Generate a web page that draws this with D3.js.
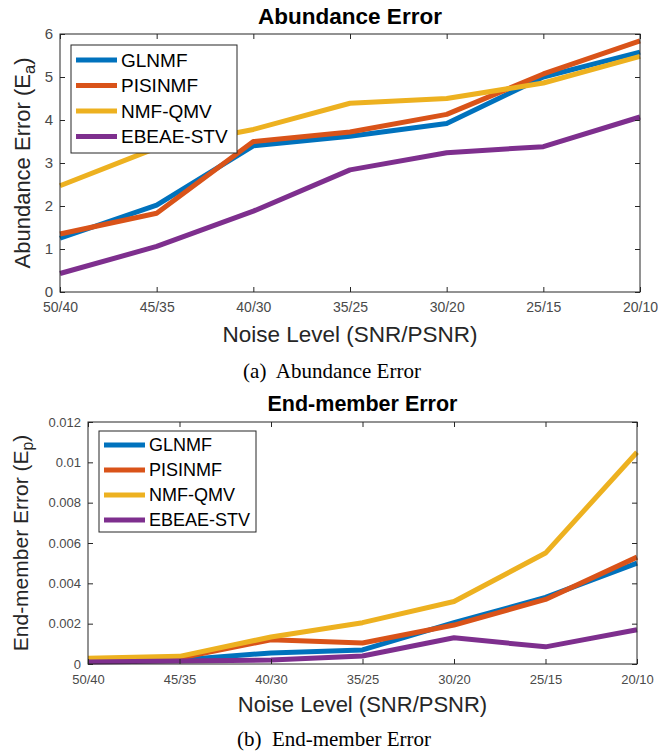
<!DOCTYPE html>
<html>
<head>
<meta charset="utf-8">
<script src="https://cdn.jsdelivr.net/npm/d3@7"></script>
<style>
  body { margin: 0; background: #fff; }
  svg { display: block; }
</style>
</head>
<body>
<div id="chart"></div>
<script>
// noise levels on the x axis, same for both panels
const noiseLevels = ["50/40", "45/35", "40/30", "35/25", "30/20", "25/15", "20/10"];
const methods = ["GLNMF", "PISINMF", "NMF-QMV", "EBEAE-STV"];
const methodColors = ["#0072BD", "#D95319", "#EDB120", "#7E2F8E"];

// (a) abundance error
const abundanceGLNMF = [1.25, 2.02, 3.4, 3.62, 3.92, 5.0, 5.58];
const abundancePISINMF = [1.35, 1.83, 3.5, 3.72, 4.13, 5.07, 5.84];
const abundanceNMFQMV = [2.47, 3.35, 3.78, 4.39, 4.5, 4.86, 5.48];
const abundanceEBEAE = [0.43, 1.06, 1.88, 2.84, 3.24, 3.38, 4.07];
const abundanceTicks = [0, 1, 2, 3, 4, 5, 6];

// (b) end-member error
const endmemberGLNMF = [0.0002, 0.0002, 0.00055, 0.0007, 0.00205, 0.0033, 0.005];
const endmemberPISINMF = [0.0002, 0.0003, 0.0012, 0.00104, 0.00193, 0.0032, 0.0053];
const endmemberNMFQMV = [0.00028, 0.00038, 0.00134, 0.00205, 0.0031, 0.0055, 0.0105];
const endmemberEBEAE = [0.0001, 0.00015, 0.0002, 0.0004, 0.0013, 0.00085, 0.0017];
const endmemberTicks = [0, 0.002, 0.004, 0.006, 0.008, 0.01, 0.012];

const width = 658, height = 752;
const axisColor = "#262626";
const labelColor = "#4a4a4a";
const font = "'Liberation Sans', Arial, sans-serif";

const svg = d3.select("#chart")
    .append("svg")
    .attr("width", width)
    .attr("height", height)
    .style("font-family", font);

function drawPanel(p) {
    const g = svg.append("g");

    const x = d3.scalePoint()
        .domain(noiseLevels)
        .range([p.left, p.right]);
    const y = d3.scaleLinear()
        .domain([p.ticks[0], p.ticks[p.ticks.length - 1]])
        .range([p.bottom, p.top]);

    // lines
    const line = d3.line()
        .x((d, i) => x(noiseLevels[i]))
        .y(d => y(d));
    p.series.forEach((s, i) => {
        g.append("path")
            .datum(s)
            .attr("d", line)
            .attr("fill", "none")
            .attr("stroke", methodColors[i])
            .attr("stroke-width", p.lineWidth)
            .attr("stroke-linejoin", "round");
    });

    // axes, MATLAB style: box with inward ticks on all four sides
    const tickLen = 5;
    g.append("g")
        .attr("transform", `translate(0,${p.bottom})`)
        .call(d3.axisBottom(x).tickSizeInner(-tickLen).tickSizeOuter(0).tickPadding(p.xPad))
        .call(a => a.select(".domain").remove())
        .call(a => a.selectAll("line").attr("stroke", axisColor))
        .call(a => a.selectAll("text")
            .attr("fill", labelColor)
            .style("font-size", p.tickFont + "px")
            .style("font-family", font));
    g.append("g")
        .attr("transform", `translate(0,${p.top})`)
        .call(d3.axisTop(x).tickSizeInner(-tickLen).tickSizeOuter(0).tickFormat(""))
        .call(a => a.select(".domain").remove())
        .call(a => a.selectAll("line").attr("stroke", axisColor));
    g.append("g")
        .attr("transform", `translate(${p.left},0)`)
        .call(d3.axisLeft(y).tickValues(p.ticks).tickFormat(d3.format("~g"))
            .tickSizeInner(-tickLen).tickSizeOuter(0).tickPadding(7))
        .call(a => a.select(".domain").remove())
        .call(a => a.selectAll("line").attr("stroke", axisColor))
        .call(a => a.selectAll("text")
            .attr("fill", labelColor)
            .style("font-size", p.yTickFont + "px")
            .style("font-family", font));
    g.append("g")
        .attr("transform", `translate(${p.right},0)`)
        .call(d3.axisRight(y).tickValues(p.ticks).tickFormat("")
            .tickSizeInner(-tickLen).tickSizeOuter(0))
        .call(a => a.select(".domain").remove())
        .call(a => a.selectAll("line").attr("stroke", axisColor));
    g.append("rect")
        .attr("x", p.left)
        .attr("y", p.top)
        .attr("width", p.right - p.left)
        .attr("height", p.bottom - p.top)
        .attr("fill", "none")
        .attr("stroke", axisColor)
        .attr("stroke-width", 1);

    // title
    g.append("text")
        .attr("x", (p.left + p.right) / 2)
        .attr("y", p.titleY)
        .attr("text-anchor", "middle")
        .style("font-weight", "bold")
        .style("font-size", p.titleFont + "px")
        .attr("fill", "#000")
        .text(p.title);

    // x label
    g.append("text")
        .attr("x", (p.left + p.right) / 2)
        .attr("y", p.xLabelY)
        .attr("text-anchor", "middle")
        .style("font-size", p.labelFont + "px")
        .attr("fill", axisColor)
        .text("Noise Level (SNR/PSNR)");

    // y label with subscript
    const yl = g.append("text")
        .attr("transform", `translate(${p.yLabelX},${(p.top + p.bottom) / 2}) rotate(-90)`)
        .attr("text-anchor", "middle")
        .style("font-size", p.yLabelFont + "px")
        .attr("fill", axisColor);
    yl.append("tspan").text(p.yLabel + " (E");
    yl.append("tspan").attr("dy", 5).style("font-size", (p.yLabelFont * 0.75) + "px").text(p.sub);
    yl.append("tspan").attr("dy", -5).text(")");

    // legend
    const lg = g.append("g");
    lg.append("rect")
        .attr("x", p.legend.x)
        .attr("y", p.legend.y)
        .attr("width", p.legend.w)
        .attr("height", p.legend.h)
        .attr("fill", "#fff")
        .attr("stroke", axisColor)
        .attr("stroke-width", 1);
    methods.forEach((m, i) => {
        const ry = p.legend.y + p.legend.first + i * p.legend.step;
        lg.append("line")
            .attr("x1", p.legend.x + 5)
            .attr("x2", p.legend.x + 46)
            .attr("y1", ry)
            .attr("y2", ry)
            .attr("stroke", methodColors[i])
            .attr("stroke-width", p.lineWidth);
        lg.append("text")
            .attr("x", p.legend.x + 50)
            .attr("y", ry)
            .attr("dy", "0.35em")
            .style("font-size", p.legend.font + "px")
            .attr("fill", "#000")
            .text(m);
    });

    // caption
    g.append("text")
        .attr("x", p.captionX)
        .attr("y", p.captionY)
        .attr("text-anchor", "middle")
        .style("font-family", "'Liberation Serif', 'Times New Roman', serif")
        .style("font-size", "21px")
        .style("white-space", "pre")
        .attr("fill", "#000")
        .text(p.caption);
}

drawPanel({
    left: 60, right: 640, top: 34, bottom: 292,
    ticks: abundanceTicks,
    series: [abundanceGLNMF, abundancePISINMF, abundanceNMFQMV, abundanceEBEAE],
    lineWidth: 5,
    tickFont: 14, yTickFont: 15, xPad: 10,
    title: "Abundance Error", titleY: 24, titleFont: 22.5,
    xLabelY: 342, labelFont: 22.5,
    yLabel: "Abundance Error", sub: "a", yLabelX: 30, yLabelFont: 22,
    legend: { x: 71, y: 45, w: 166, h: 108, first: 15, step: 25.5, font: 19 },
    caption: "(a)  Abundance Error", captionX: 332, captionY: 378
});

drawPanel({
    left: 88, right: 637, top: 422, bottom: 664,
    ticks: endmemberTicks,
    series: [endmemberGLNMF, endmemberPISINMF, endmemberNMFQMV, endmemberEBEAE],
    lineWidth: 5,
    tickFont: 13, yTickFont: 13, xPad: 11,
    title: "End-member Error", titleY: 411, titleFont: 21.5,
    xLabelY: 712, labelFont: 22,
    yLabel: "End-member Error", sub: "p", yLabelX: 28, yLabelFont: 21,
    legend: { x: 99, y: 431, w: 157, h: 101, first: 14, step: 25, font: 18 },
    caption: "(b)  End-member Error", captionX: 334, captionY: 746
});
</script>
</body>
</html>
